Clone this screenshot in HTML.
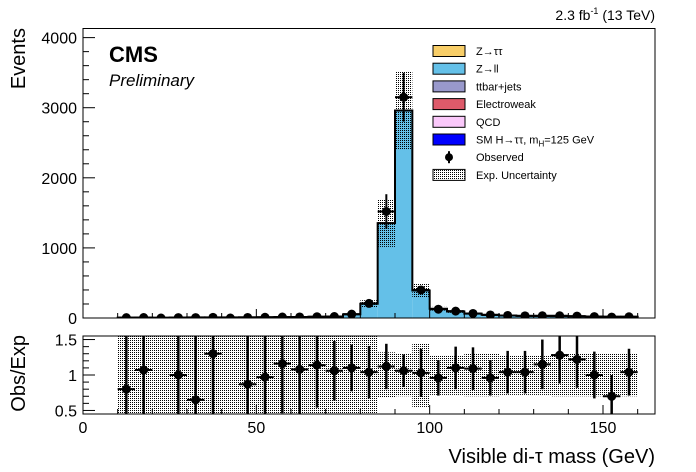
<!DOCTYPE html>
<html><head><meta charset="utf-8">
<style>
html,body{margin:0;padding:0;background:#fff;}
svg{display:block;font-family:"Liberation Sans",sans-serif;}
</style></head>
<body>
<svg id="c" width="696" height="472" viewBox="0 0 696 472">
<defs>
<pattern id="dots" width="2" height="2" patternUnits="userSpaceOnUse"><rect x="0" y="0" width="1" height="1" fill="#000"/></pattern>
</defs>
</svg>
<script>
const binLow=[10,15,20,25,30,35,40,45,50,55,60,65,70,75,80,85,90,95,100,105,110,115,120,125,130,135,140,145,150,155];
const expZll=[5,6,5,6,8,7,8,9,10,12,14,16,20,50,200,1350,2957,390,130,90,60,45,35,30,28,25,22,20,18,16];
const expZtt=[1,1,1,1,1,1,1,1,1,1,1,1,2,2,3,3,3,3,2,2,2,1,1,1,1,1,1,1,1,1];
const observed=[5,7,0,6,6,9,0,8,10,14,15,18,21,55,208,1520,3150,400,125,98,65,43,36,31,32,32,27,20,13,17];
const ratioVal=[0.8,1.07,null,1.0,0.65,1.3,null,0.87,0.97,1.16,1.08,1.14,1.06,1.1,1.04,1.12,1.06,1.03,0.96,1.1,1.09,0.96,1.04,1.04,1.15,1.28,1.22,1.0,0.7,1.04];
const ratioErr=[1,1,0,1,1,1,0,1,1,0.7,0.7,0.6,0.42,0.33,0.37,0.32,0.23,0.34,0.25,0.3,0.3,0.25,0.3,0.3,0.35,0.4,0.4,0.33,0.3,0.33];
const bandHalf=[1,1,1,1,1,1,1,1,1,1,1,1,1,1,1,0.32,0.3,0.45,0.28,0.28,0.3,0.3,0.28,0.28,0.28,0.3,0.3,0.3,0.3,0.3];
const mainUnc=[0.3,0.3,0.3,0.3,0.3,0.3,0.3,0.3,0.3,0.3,0.3,0.3,0.3,0.3,0.25,0.25,0.19,0.27,0.2,0.2,0.2,0.2,0.2,0.2,0.2,0.2,0.2,0.2,0.2,0.2];
const binW=5;
const xTicks=[0,50,100,150];
const yTicks=[0,1000,2000,3000,4000];
const rTicks=[0.5,1,1.5];

const NS="http://www.w3.org/2000/svg";
const svg=document.getElementById('c');
const L=83,R=655,T1=28.5,B1=318,T2=336,B2=414;
const X=v=>L+v*(R-L)/165;
const Y=v=>B1-(v/4130)*(B1-T1);
const YR=v=>B2-((v-0.45)/1.1)*(B2-T2);
function mk(tag,attrs,parent){const e=document.createElementNS(NS,tag);for(const k in attrs)e.setAttribute(k,attrs[k]);(parent||svg).appendChild(e);return e;}
function txt(s,x,y,size,anchor,extra){const e=mk('text',Object.assign({x:x,y:y,'font-size':size,'text-anchor':anchor||'start',fill:'#000'},extra||{}));e.textContent=s;return e;}

const cp=mk('clipPath',{id:'cm'},svg.querySelector('defs'));mk('rect',{x:L,y:T1,width:R-L,height:B1-T1},cp);
const cr=mk('clipPath',{id:'cr'},svg.querySelector('defs'));mk('rect',{x:L,y:T2,width:R-L,height:B2-T2},cr);
const gm=mk('g',{'clip-path':'url(#cm)'});
for(let i=0;i<binLow.length;i++){
  const x0=X(binLow[i]),x1=X(binLow[i]+binW);
  const b=mk('rect',{x:x0,y:Y(expZll[i]),width:x1-x0,height:Y(0)-Y(expZll[i]),fill:'#64c0e8'},gm);
  
  const t=mk('rect',{x:x0,y:Y(expZll[i]+expZtt[i]),width:x1-x0,height:Y(expZll[i])-Y(expZll[i]+expZtt[i]),fill:'#f8ce68'},gm);
  
}
for(let i=0;i<binLow.length;i++){
  const tot=expZll[i]+expZtt[i];const h=mainUnc[i]*tot;
  const u=mk('rect',{x:X(binLow[i]),y:Y(tot+h),width:X(binLow[i]+binW)-X(binLow[i]),height:Y(Math.max(tot-h,0))-Y(tot+h),fill:'url(#dots)'},gm);
  
}
let d='M'+X(binLow[0])+','+Y(0);
for(let i=0;i<binLow.length;i++){const tot=expZll[i]+expZtt[i];d+=' L'+X(binLow[i])+','+Y(tot)+' L'+X(binLow[i]+binW)+','+Y(tot);}
d+=' L'+X(binLow[binLow.length-1]+binW)+','+Y(0);
const ol=mk('path',{d:d,fill:'none',stroke:'#000','stroke-width':2},gm);
for(let i=0;i<binLow.length;i++){
  const c=binLow[i]+binW/2,v=observed[i];const e=Math.sqrt(v)*(v>1000?6:1.2);
  const cx=X(c),cy=Y(v);
  mk('line',{x1:cx,x2:cx,y1:Y(v+e+12),y2:Y(Math.max(v-e-12,0)),stroke:'#000','stroke-width':2},gm);
  mk('line',{x1:X(binLow[i]),x2:X(binLow[i]+binW),y1:cy,y2:cy,stroke:'#000','stroke-width':2},gm);
  const p=mk('circle',{cx:cx,cy:cy,r:4.5,fill:'#000'},gm);
}
const gr=mk('g',{'clip-path':'url(#cr)'});
for(let i=0;i<binLow.length;i++){
  const h=bandHalf[i];
  const r=mk('rect',{x:X(binLow[i]),y:YR(1+h),width:X(binLow[i]+binW)-X(binLow[i]),height:YR(1-h)-YR(1+h),fill:'url(#dots)'},gr);
  
}
for(let i=0;i<binLow.length;i++){
  const v=ratioVal[i];if(v===null)continue;const c=X(binLow[i]+binW/2),e=ratioErr[i];
  mk('line',{x1:c,x2:c,y1:YR(v+e),y2:YR(v-e),stroke:'#000','stroke-width':2.5},gr);
  mk('line',{x1:X(binLow[i]),x2:X(binLow[i]+binW),y1:YR(v),y2:YR(v),stroke:'#000','stroke-width':2},gr);
  const p=mk('circle',{cx:c,cy:YR(v),r:4.5,fill:'#000'},gr);
}
const f1=mk('rect',{x:L,y:T1,width:R-L,height:B1-T1,fill:'none',stroke:'#000','stroke-width':1});
const f2=mk('rect',{x:L,y:T2,width:R-L,height:B2-T2,fill:'none',stroke:'#000','stroke-width':1});
for(let v=0;v<=160;v+=10){const big=v%50===0;
  mk('line',{x1:X(v),x2:X(v),y1:B1,y2:B1-(big?9:5),stroke:'#000'});
  mk('line',{x1:X(v),x2:X(v),y1:B2,y2:B2-(big?9:5),stroke:'#000'});}
xTicks.forEach(v=>{const t=txt(String(v),X(v),433,16,'middle');});
for(let v=0;v<=4000;v+=200){const big=v%1000===0;mk('line',{x1:L,x2:L+(big?12:6),y1:Y(v),y2:Y(v),stroke:'#000'});}
yTicks.forEach(v=>{const t=txt(String(v),77,Y(v)+6,16,'end');});
for(let v=0.5;v<=1.5001;v+=0.1){const big=Math.abs(v*2-Math.round(v*2))<1e-6;mk('line',{x1:L,x2:L+(big?12:6),y1:YR(v),y2:YR(v),stroke:'#000'});}
rTicks.forEach(v=>{const t=txt(String(v),77,YR(v)+6,16,'end');});
let t;
t=txt('Events',0,0,20,'end',{transform:'translate(25,28) rotate(-90)'});
t=txt('Obs/Exp',0,0,20,'end',{transform:'translate(25,335) rotate(-90)'});
t=txt('Visible di-τ mass (GeV)',655,463,20,'end');
t=txt('CMS',109,62,22,'start',{'font-weight':'bold'});
t=txt('Preliminary',109,86,17,'start',{'font-style':'italic'});
t=mk('text',{x:655,y:20,'font-size':14,'text-anchor':'end'});t.innerHTML='2.3 fb<tspan dy="-6" font-size="9">-1</tspan><tspan dy="6"> (13 TeV)</tspan>';
const leg=[['Z→ττ','#f8ce68'],['Z→ll','#64c0e8'],['ttbar+jets','#9999cc'],['Electroweak','#de5a6a'],['QCD','#fac8fa'],['SM H→ττ, m_H=125 GeV','#0000ff'],['Observed',null],['Exp. Uncertainty','dots']];
const lg=mk('g',{});
leg.forEach((l,i)=>{const cy=51+i*17.7;
  const g=mk('g',{},lg);
  if(l[1]===null){mk('circle',{cx:449,cy:cy,r:4,fill:'#000'},g);mk('line',{x1:449,x2:449,y1:cy-6,y2:cy+6,stroke:'#000','stroke-width':2},g);}
  else mk('rect',{x:433,y:cy-5.5,width:32,height:11,fill:l[1]==='dots'?'url(#dots)':l[1],stroke:'#000','stroke-width':1},g);
  const tx=mk('text',{x:476,y:cy+4,'font-size':11,fill:'#000'},g);
  if(l[0].indexOf('m_H')>=0){tx.innerHTML='SM H→ττ, m<tspan dy="3" font-size="8">H</tspan><tspan dy="-3">=125 GeV</tspan>';}
  else tx.textContent=l[0];
});
</script>
</body></html>
